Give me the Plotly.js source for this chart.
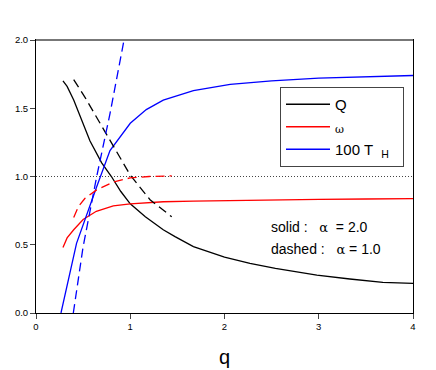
<!DOCTYPE html>
<html>
<head>
<meta charset="utf-8">
<script src="https://cdn.plot.ly/plotly-3.0.1.min.js"></script>
<style>html,body{margin:0;padding:0;background:#fff;}#chart{width:436px;height:370px;}</style>
</head>
<body>
<div id="chart"></div>
<script>
// alpha = 2.0 (solid)
var qQ2 = [0.286,0.33,0.40,0.467,0.573,0.697,0.80,0.90,1.0,1.16,1.35,1.475,1.67,2.0,2.27,2.54,2.98,3.33,3.68,4.0];
var Q2  = [1.70,1.66,1.56,1.44,1.26,1.10,1.00,0.89,0.80,0.705,0.61,0.56,0.486,0.41,0.364,0.327,0.278,0.249,0.225,0.217];
var qW2 = [0.286,0.33,0.40,0.50,0.64,0.82,1.0,1.2,1.35,1.67,2.06,2.5,3.0,3.5,4.0];
var W2  = [0.48,0.55,0.61,0.685,0.745,0.785,0.80,0.81,0.815,0.82,0.825,0.828,0.832,0.835,0.838];
var qT2 = [0.265,0.43,0.644,0.785,1.0,1.17,1.35,1.67,2.06,2.5,3.0,3.5,4.0];
var T2  = [0.0,0.51,0.925,1.19,1.39,1.49,1.56,1.63,1.675,1.70,1.72,1.73,1.74];
// alpha = 1.0 (dashed)
var qQ1 = [0.40,0.52,0.68,0.82,1.0,1.21,1.44];
var Q1  = [1.71,1.58,1.39,1.22,1.01,0.83,0.705];
var qW1 = [0.40,0.45,0.52,0.64,0.82,1.0,1.2,1.44];
var W1  = [0.70,0.78,0.84,0.90,0.96,0.99,1.0,1.005];
var qT1 = [0.396,0.50,0.644,0.785,0.934];
var T1  = [0.0,0.486,1.0,1.46,2.0];
var refLevel = 1.0;
var xTicks = [0,1,2,3,4];
var yTicks = [0.0,0.5,1.0,1.5,2.0];
var seriesNames = ['Q', '<span style="font-family:\'DejaVu Serif\',serif;font-size:11px">ω</span>', '100 T  <sub>H</sub>\u00a0\u00a0'];

var dashPat = '9px,5px';
var lw = 1.3;
var traces = [
  {x:qQ2, y:Q2, mode:'lines', name:seriesNames[0], line:{color:'#000000', width:lw}},
  {x:qW2, y:W2, mode:'lines', name:seriesNames[1], line:{color:'#ff0000', width:lw}},
  {x:qT2, y:T2, mode:'lines', name:seriesNames[2], line:{color:'#0000ff', width:lw}},
  {x:qQ1, y:Q1, mode:'lines', showlegend:false, line:{color:'#000000', width:lw, dash:dashPat}},
  {x:qW1, y:W1, mode:'lines', showlegend:false, line:{color:'#ff0000', width:lw, dash:dashPat}},
  {x:qT1, y:T1, mode:'lines', showlegend:false, line:{color:'#0000ff', width:lw, dash:dashPat}}
];

var layout = {
  width:436, height:370,
  margin:{l:36, r:23, t:40, b:57},
  paper_bgcolor:'#ffffff', plot_bgcolor:'#ffffff',
  font:{family:'Liberation Sans, Arial, sans-serif', color:'#000'},
  xaxis:{range:[0,4], tickvals:xTicks, ticktext:xTicks.map(String), ticks:'outside', ticklen:5, tickwidth:1,
         showline:true, linecolor:'#000', linewidth:1, mirror:true, showgrid:false, zeroline:false,
         tickfont:{size:9.5}, title:{text:'q', font:{size:20}, standoff:18}},
  yaxis:{range:[0,2], tickvals:yTicks, ticktext:yTicks.map(function(v){return v.toFixed(1);}), ticks:'outside', ticklen:5, tickwidth:1,
         showline:true, linecolor:'#000', linewidth:1, mirror:true, showgrid:false, zeroline:false,
         tickfont:{size:9.5}},
  showlegend:true,
  legend:{x:(280-36)/377, y:(313-87)/273, xanchor:'left', yanchor:'top', bordercolor:'#444', borderwidth:1,
          bgcolor:'#ffffff', font:{size:15}, tracegroupgap:0, itemwidth:44},
  shapes:[
    {type:'line', xref:'paper', yref:'y', x0:0, x1:1, y0:refLevel, y1:refLevel, line:{color:'#444', width:1, dash:'1px,2px'}, layer:'below'},
    {type:'line', xref:'paper', yref:'paper', x0:0, x1:1, y0:1, y1:1, line:{color:'#777', width:2}}
  ],
  annotations:[
    {xref:'paper', yref:'paper', x:(269-36)/377, y:(313-227)/273, xanchor:'left', yanchor:'middle', showarrow:false,
     text:'solid :   <span style="font-family:\'DejaVu Serif\',serif;font-size:13px">α</span>  = 2.0', font:{size:14}},
    {xref:'paper', yref:'paper', x:(269-36)/377, y:(313-248.5)/273, xanchor:'left', yanchor:'middle', showarrow:false,
     text:'dashed :   <span style="font-family:\'DejaVu Serif\',serif;font-size:13px">α</span> = 1.0', font:{size:14}}
  ]
};

Plotly.newPlot('chart', traces, layout, {displayModeBar:false, staticPlot:true});
</script>
</body>
</html>
